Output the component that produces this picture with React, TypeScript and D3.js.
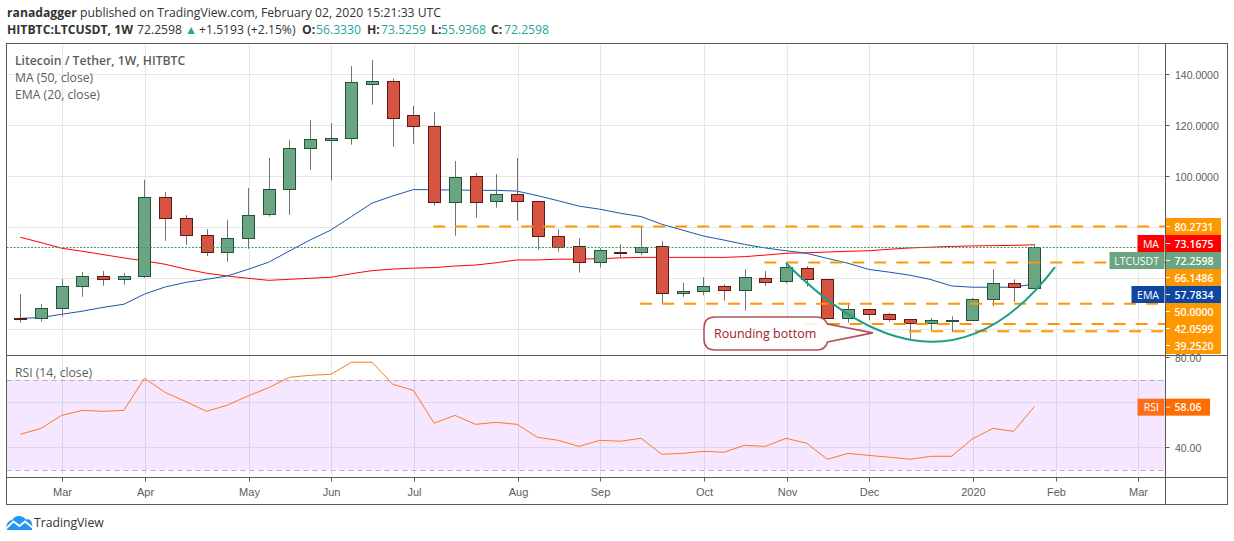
import * as d3 from "d3";

// weekly LTCUSDT candles, Feb 2019 to Jan 2020
const OPENS = [44.3, 44.3, 48.2, 56.9, 60.8, 59.9, 60.8, 91.8, 83.5, 76.9, 70.2, 75.7, 85.1, 94.9, 111, 114.4, 114.9, 136.3, 137.4, 123.9, 119.6, 89.8, 100, 90.2, 92.9, 90.2, 76.5, 72.5, 66.3, 70.4, 70.2, 72.5, 54.1, 54.9, 56.9, 55.3, 60, 58.8, 63.9, 59.6, 44.3, 47.8, 45.9, 43.9, 42.4, 43.6, 43.5, 51.8, 58, 56.33];
const HIGHS = [53.8, 49.9, 59.7, 62.5, 62.9, 62.1, 98.6, 93.8, 84.8, 79.3, 82.9, 95.4, 107.2, 114.2, 122.1, 120.9, 143.2, 145.6, 138.4, 127.6, 125.2, 106, 101.3, 100.9, 107.2, 90.4, 79.2, 75.7, 71.8, 73.4, 80.5, 74.6, 58.2, 60.4, 57.6, 63.5, 62.9, 66.3, 64.8, 59.8, 49.8, 48, 46.4, 44, 44.4, 45.1, 52.3, 63.5, 59.6, 73.5259];
const LOWS = [42.6, 43, 44.9, 52.8, 57.1, 57.5, 60.2, 74.7, 73.1, 68.7, 66.5, 71.6, 84.2, 84.9, 102.5, 98.3, 112.4, 128.1, 111.6, 112.7, 88.5, 76.7, 83.8, 87.7, 82.6, 71.2, 70.4, 62.2, 64.2, 67.9, 69.1, 50.2, 52.7, 53.4, 51.2, 47.3, 57, 57.9, 56.7, 44, 42.6, 43.6, 43, 36.2, 39.7, 39, 43.5, 49.1, 50.7, 55.9368];
const CLOSES = [44.2, 48.2, 56.9, 60.8, 59.9, 60.8, 91.8, 83.5, 76.9, 70.2, 75.7, 84.7, 94.9, 111, 114.5, 115, 137, 137.4, 123, 119.6, 89.8, 99.6, 89.8, 92.9, 90.2, 76.5, 72.2, 66.3, 71, 70.2, 72.2, 54.1, 54.9, 56.9, 55.3, 60.4, 58.4, 64.3, 59.6, 44.3, 47.8, 45.9, 43.9, 42.4, 43.5, 43.8, 51.8, 58, 56.5, 72.2598];

const MA50 = [76.1, 74, 71.8, 70.6, 69.3, 68, 66.8, 65.5, 63.6, 62, 60.9, 60, 59.2, 59.6, 60, 60.4, 61.8, 63, 63.6, 64, 64.2, 64.8, 65.2, 66.1, 67.2, 67.2, 67.5, 67.5, 67.7, 68, 68.2, 68.2, 68.2, 68.2, 68.2, 68.5, 69.1, 69.8, 70, 70.3, 70.6, 70.8, 71.4, 71.9, 72.2, 72.5, 72.7, 72.8, 72.9, 73.1675];
const EMA20 = [44.3, 44.6, 45.9, 47.1, 48.6, 49.8, 53.8, 56.6, 58.4, 59.6, 60.9, 63.5, 66.3, 70.7, 75, 78.9, 84.2, 89.5, 92.3, 94.8, 94.7, 94.6, 94.5, 94.5, 94.2, 92.4, 90.4, 88.3, 87.1, 85.5, 84.2, 81.2, 78.9, 76.6, 75, 73.3, 71.9, 70.8, 69.8, 67.8, 65.9, 63.5, 62.4, 61.2, 59.5, 57, 56.5, 56.5, 56.5, 57.7834];
const RSI14 = [45.8, 48.4, 54.2, 56.4, 56, 56.4, 70.7, 64.4, 60.3, 56, 58.7, 62.8, 66.5, 71.1, 72, 72.4, 77.8, 77.8, 68, 65.3, 50.7, 54.2, 50.2, 51.1, 50.2, 44.4, 43.1, 40.4, 43.1, 42.7, 44, 36.9, 37.3, 38.2, 37.8, 40.9, 40.4, 44, 41.8, 34.7, 37.3, 36.4, 35.6, 34.7, 36, 36, 43.7, 48.4, 47.1, 58.06];

// month ticks sit on the first candle of each month
const MONTH_TICKS = [2, 6, 11, 15, 19, 24, 28, 33, 37, 41, 46, 50, 54];
const MONTH_LABELS = ["Mar", "Apr", "May", "Jun", "Jul", "Aug", "Sep", "Oct", "Nov", "Dec", "2020", "Feb", "Mar"];
const PRICE_TICKS = [140, 120, 100, 80, 60, 40];
const PRICE_TICK_LABELS = ["140.0000", "120.0000", "100.0000"];
const RSI_GRID = [60, 40];

// drawn levels: [price, first candle]
const LEVELS: [number, number][] = [
  [80.2731, 20],
  [66.1486, 36],
  [50, 30],
  [42.0599, 38],
  [39.252, 43],
];
// rounding bottom: quadratic curve, [candle, price]
const CURVE: [number, number][] = [[37, 66], [44.45, 5.05], [50, 64.4]];

const AXIS_LABELS = ["80.2731", "73.1675", "72.2598", "66.1486", "57.7834", "50.0000", "42.0599", "39.2520"];
const AXIS_COLORS = ["#ff9800", "#ff0000", "#6ba583", "#ff9800", "#0d47a1", "#ff9800", "#ff9800", "#ff9800"];
const AXIS_TAGS = ["", "MA", "LTCUSDT", "", "EMA", "", "", ""];
const TAG_WIDTHS = [0, 27, 55, 0, 33, 0, 0, 0];

const UP = "#6ba583";
const UP_EDGE = "#225437";
const DOWN = "#d75442";
const DOWN_EDGE = "#5b1a13";
const GRID = "#e6e6e6";
const FRAME = "#5a5a5a";
const TEXT = "#5d5d5d";
const TEAL = "#26a69a";
const FONT = "'Open Sans', sans-serif";
const AXIS_FONT = "'Liberation Sans', sans-serif";

const LEFT = 6.5;
const RIGHT = 1227.5;
const AXIS_X = 1165.5;
const TOP = 43.5;
const MAIN_BOTTOM = 355.5;
const RSI_BOTTOM = 477.5;
const BOTTOM = 504.5;

const x = d3.scaleLinear().domain([0, 49]).range([20.3, 1034.3]);
const y = d3.scaleLinear().domain([140, 40]).range([74.3, 329.3]);
const rsiY = d3.scaleLinear().domain([80, 40]).range([357.3, 447.3]);

const crisp = (v: number) => Math.round(v) + 0.5;
const gridX = (i: number) => crisp(x(i) + 0.6);

function Candles() {
  return (
    <g>
      {CLOSES.map((c, i) => {
        const o = OPENS[i];
        const up = c >= o;
        const top = crisp(y(Math.max(o, c)));
        const bot = Math.max(crisp(y(Math.min(o, c))), top + 1);
        const cx = crisp(x(i));
        return (
          <g key={i}>
            <line x1={cx} x2={cx} y1={y(HIGHS[i])} y2={y(LOWS[i])} stroke="#737375" />
            <rect x={cx - 6} y={top} width={12} height={bot - top} fill={up ? UP : DOWN} stroke={up ? UP_EDGE : DOWN_EDGE} />
          </g>
        );
      })}
    </g>
  );
}

function AxisStack() {
  return (
    <g fontFamily={FONT} fontSize={10.5} fontWeight={600} fill="#fff">
      {AXIS_LABELS.map((t, i) => {
        const top = 218 + i * 17;
        return (
          <g key={t}>
            <rect x={AXIS_X + 0.5} y={top} width={55} height={17} fill={AXIS_COLORS[i]} />
            <line x1={AXIS_X + 0.5} x2={AXIS_X + 4.5} y1={top + 8.5} y2={top + 8.5} stroke="#fff" />
            <text x={AXIS_X + 9} y={top + 12.5}>{t}</text>
            {AXIS_TAGS[i] && (
              <g>
                <rect x={AXIS_X - 1 - TAG_WIDTHS[i]} y={top} width={TAG_WIDTHS[i]} height={17} fill={AXIS_COLORS[i]} />
                <text x={AXIS_X - 6.5} y={top + 12.5} textAnchor="end" fontWeight={400}>{AXIS_TAGS[i]}</text>
              </g>
            )}
          </g>
        );
      })}
    </g>
  );
}

function Callout() {
  // box hangs off the right-hand tip
  const l = 704, r = 827.5, t = 317, b = 350, rad = 11;
  const tipX = x(41.2);
  const tipY = y(38.6);
  const d = `M${l + rad},${t}H${r - rad}Q${r - 3},${t} ${r},${t + 7}L${tipX},${tipY}L${r},${b - 8}Q${r - 2},${b} ${r - rad},${b}H${l + rad}Q${l},${b} ${l},${b - rad}V${t + rad}Q${l},${t} ${l + rad},${t}Z`;
  return (
    <g>
      <path d={d} fill="#fff" fillOpacity={0.85} stroke="#a8323e" strokeWidth={1.6} strokeOpacity={0.85} />
      <text x={l + 10} y={337.5} fontFamily={FONT} fontSize={12.5} fill="#a4202c">Rounding bottom</text>
    </g>
  );
}

function Logo() {
  return (
    <g>
      <path d="M6,527 Q7,521 12,520 Q15,515.5 20,516 Q24,516.5 26,519.5 Q30,518.5 31,521 Q33,524 32,530 L8,530 Q6,530 6,527Z" fill="#2196f3" />
      <path d="M6,528.5 L13.5,521.5 L19.5,526 L25,521.5 L33,528" fill="none" stroke="#fff" strokeWidth={1.8} />
      <text x={34} y={527} fontFamily={FONT} fontSize={12.2} fill="#333">TradingView</text>
    </g>
  );
}

export default function App() {
  const maLine = d3.line<number>().x((_, i) => x(i)).y((d) => y(d));
  const rsiLine = d3.line<number>().x((_, i) => x(i)).y((d) => rsiY(d));
  const [p0, pc, p1] = CURVE;
  const curve = d3.path();
  curve.moveTo(x(p0[0]), y(p0[1]));
  curve.quadraticCurveTo(x(pc[0]), y(pc[1]), x(p1[0]), y(p1[1]));

  return (
    <svg width={1234} height={541} style={{ position: "absolute", left: 0, top: 0, background: "#fff" }}>
      <g fontFamily={FONT} fontSize={12.2} fill="#333">
        <text x={7} y={17}>
          <tspan fontWeight={700}>ranadagger</tspan> published on TradingView.com, February 02, 2020 15:21:33 UTC
        </text>
        <text y={34}>
          <tspan x={7} fontWeight={700}>HITBTC:LTCUSDT, 1W</tspan>
          <tspan x={137}>72.2598</tspan>
          <tspan x={185} fill={TEAL}>▲</tspan>
          <tspan x={199}>+1.5193 (+2.15%)</tspan>
          <tspan x={302} fontWeight={700}>O:</tspan>
          <tspan x={316} fill={TEAL}>56.3330</tspan>
          <tspan x={367} fontWeight={700}>H:</tspan>
          <tspan x={381} fill={TEAL}>73.5259</tspan>
          <tspan x={431} fontWeight={700}>L:</tspan>
          <tspan x={441} fill={TEAL}>55.9368</tspan>
          <tspan x={491} fontWeight={700}>C:</tspan>
          <tspan x={504} fill={TEAL}>72.2598</tspan>
        </text>
      </g>

      {/* grid */}
      {MONTH_TICKS.map((i) => (
        <line key={i} x1={gridX(i)} x2={gridX(i)} y1={TOP} y2={RSI_BOTTOM} stroke={GRID} />
      ))}
      {PRICE_TICKS.map((p) => (
        <line key={p} x1={LEFT} x2={AXIS_X} y1={crisp(y(p))} y2={crisp(y(p))} stroke={GRID} />
      ))}

      {/* rsi band goes over the grid so the lines show through tinted */}
      <rect x={LEFT} y={rsiY(70)} width={AXIS_X - LEFT} height={rsiY(30) - rsiY(70)} fill="#9915ff" fillOpacity={0.1} />
      {RSI_GRID.map((v) => (
        <line key={v} x1={LEFT} x2={AXIS_X} y1={crisp(rsiY(v))} y2={crisp(rsiY(v))} stroke="#e0d4e8" />
      ))}
      {[70, 30].map((v) => (
        <line key={v} x1={LEFT} x2={AXIS_X} y1={crisp(rsiY(v))} y2={crisp(rsiY(v))} stroke="#b9adc6" strokeDasharray="5 4" />
      ))}
      <path d={rsiLine(RSI14) ?? ""} fill="none" stroke="#ff6d00" strokeWidth={1} opacity={0.9} />

      {/* price pane */}
      <path d={maLine(MA50) ?? ""} fill="none" stroke="#ff0000" strokeWidth={1} />
      <path d={maLine(EMA20) ?? ""} fill="none" stroke="#1c56ae" strokeWidth={1} />
      <Candles />
      <line x1={LEFT} x2={AXIS_X} y1={crisp(y(CLOSES[49]))} y2={crisp(y(CLOSES[49]))} stroke="#3f9a68" strokeDasharray="2 1.5" />
      {LEVELS.map(([p, from]) => (
        <line key={p} x1={x(from) - 1} x2={AXIS_X} y1={y(p)} y2={y(p)} stroke="#ff9800" strokeWidth={2} strokeDasharray="12 10" />
      ))}
      <path d={curve.toString()} fill="none" stroke="#1a9e86" strokeWidth={2} />
      <Callout />

      <g fontFamily={FONT} fontSize={12.2} fill={TEXT}>
        <text x={15} y={65} fontWeight={600}>Litecoin / Tether, 1W, HITBTC</text>
        <text x={15} y={82}>MA (50, close)</text>
        <text x={15} y={99}>EMA (20, close)</text>
        <text x={15} y={377}>RSI (14, close)</text>
      </g>

      {/* frame */}
      <rect x={LEFT} y={TOP} width={RIGHT - LEFT} height={BOTTOM - TOP} fill="none" stroke={FRAME} />
      <line x1={LEFT} x2={RIGHT} y1={MAIN_BOTTOM} y2={MAIN_BOTTOM} stroke={FRAME} />
      <line x1={LEFT} x2={RIGHT} y1={RSI_BOTTOM} y2={RSI_BOTTOM} stroke={FRAME} />
      <line x1={AXIS_X} x2={AXIS_X} y1={TOP} y2={BOTTOM} stroke={FRAME} />

      {/* x axis */}
      <g fontFamily={AXIS_FONT} fontSize={11} fill={TEXT} textAnchor="middle">
        {MONTH_TICKS.map((i, k) => (
          <g key={i}>
            <line x1={gridX(i)} x2={gridX(i)} y1={RSI_BOTTOM} y2={RSI_BOTTOM + 4} stroke={FRAME} />
            <text x={gridX(i)} y={496}>{MONTH_LABELS[k]}</text>
          </g>
        ))}
      </g>

      {/* price axis */}
      <g fontFamily={AXIS_FONT} fontSize={10.5} fill={TEXT}>
        {PRICE_TICK_LABELS.map((t, k) => (
          <g key={t}>
            <line x1={AXIS_X} x2={AXIS_X + 4} y1={crisp(y(PRICE_TICKS[k]))} y2={crisp(y(PRICE_TICKS[k]))} stroke={FRAME} />
            <text x={AXIS_X + 9.5} y={y(PRICE_TICKS[k]) + 4.5}>{t}</text>
          </g>
        ))}
        <line x1={AXIS_X} x2={AXIS_X + 4} y1={crisp(rsiY(80))} y2={crisp(rsiY(80))} stroke={FRAME} />
        <text x={AXIS_X + 9.5} y={rsiY(80) + 4.5}>80.00</text>
        <line x1={AXIS_X} x2={AXIS_X + 4} y1={crisp(rsiY(40))} y2={crisp(rsiY(40))} stroke={FRAME} />
        <text x={AXIS_X + 9.5} y={rsiY(40) + 4.5}>40.00</text>
      </g>

      <AxisStack />

      {/* rsi tag */}
      <g fontFamily={FONT} fontSize={10.5} fontWeight={600} fill="#fff">
        <rect x={AXIS_X - 28} y={rsiY(58.06) - 8} width={27} height={17} fill="#ff6d1a" />
        <text x={AXIS_X - 6.5} y={rsiY(58.06) + 4.5} textAnchor="end" fontWeight={400}>RSI</text>
        <rect x={AXIS_X + 0.5} y={rsiY(58.06) - 8} width={44} height={17} fill="#ff6d00" />
        <line x1={AXIS_X + 0.5} x2={AXIS_X + 4.5} y1={rsiY(58.06) + 0.5} y2={rsiY(58.06) + 0.5} stroke="#fff" />
        <text x={AXIS_X + 9} y={rsiY(58.06) + 4.5}>58.06</text>
      </g>

      <Logo />
    </svg>
  );
}
